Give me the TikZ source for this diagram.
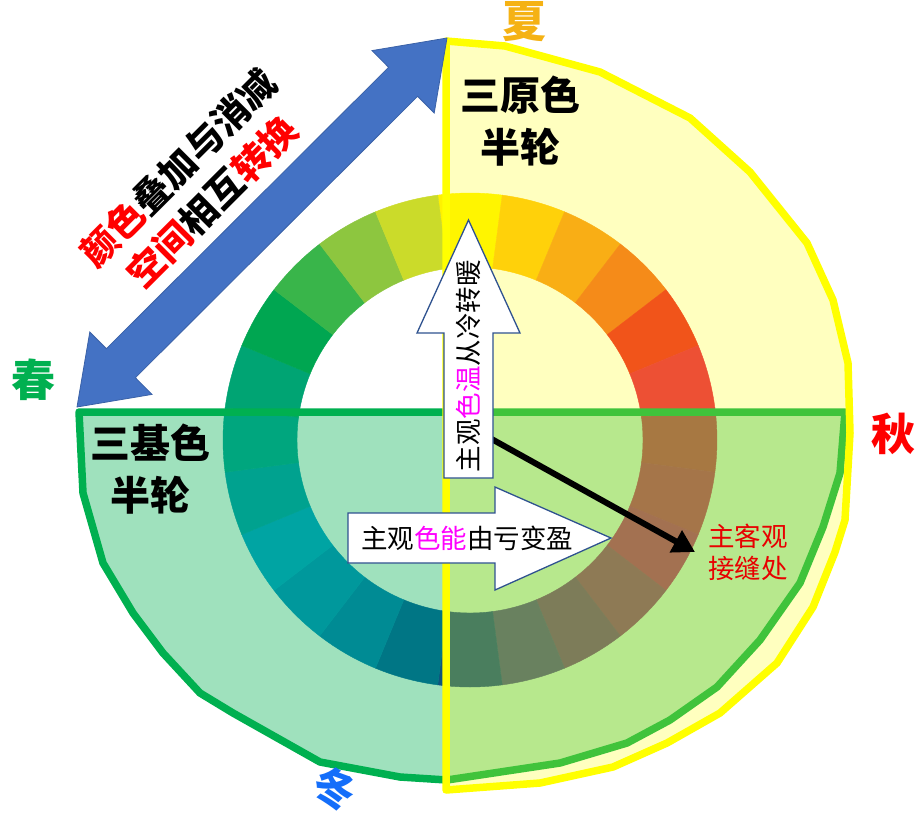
\documentclass[tikz,border=0pt]{standalone}
\usepackage{fontspec}
\setmainfont{Noto Sans CJK SC}
\usetikzlibrary{arrows.meta}
\definecolor{grn}{RGB}{0,176,80}
\definecolor{yel}{RGB}{255,255,0}
\definecolor{arrblue}{RGB}{68,114,196}
\definecolor{arredge}{RGB}{47,82,143}
\definecolor{mag}{RGB}{255,0,255}
\definecolor{txtred}{RGB}{255,0,0}
\definecolor{seamred}{RGB}{232,0,0}
\definecolor{summer}{RGB}{245,178,20}
\definecolor{winter}{RGB}{20,110,250}
\definecolor{r0}{RGB}{255,242,0}
\definecolor{r1}{RGB}{255,194,14}
\definecolor{r2}{RGB}{247,148,29}
\definecolor{r3}{RGB}{242,101,34}
\definecolor{r4}{RGB}{237,28,36}
\definecolor{r5}{RGB}{232,22,70}
\definecolor{r6}{RGB}{222,16,95}
\definecolor{r7}{RGB}{219,8,110}
\definecolor{r8}{RGB}{214,0,127}
\definecolor{r9}{RGB}{169,19,135}
\definecolor{r10}{RGB}{133,25,144}
\definecolor{r11}{RGB}{90,36,157}
\definecolor{r12}{RGB}{24,29,155}
\definecolor{r13}{RGB}{0,83,166}
\definecolor{r14}{RGB}{0,118,190}
\definecolor{r15}{RGB}{0,139,202}
\definecolor{r16}{RGB}{0,157,214}
\definecolor{r17}{RGB}{0,154,182}
\definecolor{r18}{RGB}{0,160,154}
\definecolor{r19}{RGB}{0,164,115}
\definecolor{r20}{RGB}{0,166,81}
\definecolor{r21}{RGB}{57,181,74}
\definecolor{r22}{RGB}{141,198,63}
\definecolor{r23}{RGB}{203,219,42}
\tikzset{
  halfgreen/.style={fill=grn, fill opacity=0.375, draw=grn, line width=7.5, line join=round},
  halfyellow/.style={fill=yel, fill opacity=0.25, draw=yel, line width=7.5, line join=round},
  whitearrow/.style={fill=white, draw=arredge, line width=1.3, line join=miter},
  bluearrow/.style={fill=arrblue, draw=arrblue!85!black, line width=0.8, line join=miter},
  season/.style={font=\bfseries\fontsize{44}{44}\selectfont, inner sep=0pt},
  halflabel/.style={align=center, font=\bfseries\fontsize{40}{52}\selectfont, inner sep=0pt},
  arrowtext/.style={font=\fontsize{26.5}{30}\selectfont, inner sep=0pt},
  seamtext/.style={align=center, text=seamred, font=\fontsize{26.5}{32}\selectfont, inner sep=0pt},
  slanttext/.style={rotate=45, align=center, inner sep=0pt, font=\bfseries\fontsize{37}{48}\selectfont},
  pointer/.style={line width=6, -{Triangle[length=22pt,width=24pt]}}
}
\begin{document}
\begin{tikzpicture}[x=1pt,y=-1pt]
\useasboundingbox (0,0) rectangle (923,815);
\fill[white] (0,0) rectangle (923,815);

% colour ring
\begin{scope}[shift={(470,440)}]
\foreach \k in {0,...,23}{
  \pgfmathsetmacro\aa{15*\k-90-7.5}
  \pgfmathsetmacro\bb{15*\k-90+7.5}
  \fill[r\k, draw=r\k, line width=0.4] (\aa:247) arc[start angle=\aa, end angle=\bb, radius=247]
     -- (\bb:173) arc[start angle=\bb, end angle=\aa, radius=173] -- cycle;
}
\end{scope}

% green half wheel (lower)
\path[halfgreen] (79,412) -- (845,412) -- (840,473) -- (823,527) -- (800,583) -- (760,640)
  -- (717,687) -- (670,720) -- (627,743) -- (560,763) -- (447,780) -- (400,777) -- (320,762)
  -- (233,713) -- (200,693) -- (163,653) -- (133,613) -- (103,563) -- (83,493) -- cycle;

% yellow half wheel (right)
\path[halfyellow] (446,41) -- (505,46) -- (600,72) -- (690,118) -- (750,172) -- (807,243)
  -- (833,300) -- (848,363) -- (850,433) -- (845,520) -- (835,552) -- (813,607) -- (777,663)
  -- (720,713) -- (667,743) -- (613,767) -- (540,783) -- (446,790) -- cycle;

% black pointer
\coordinate (bstart) at (470,427);
\coordinate (seamtip) at (695,552);
\draw[pointer] (bstart) -- (seamtip);

% white block arrows
\draw[whitearrow] (444,478) -- (444,333) -- (417,333) -- (468.5,220) -- (520,333) -- (493,333) -- (493,478) -- cycle;
\draw[whitearrow] (348,513) -- (495,513) -- (495,487) -- (611,538) -- (495,590) -- (495,563) -- (348,563) -- cycle;

% blue double arrow
\draw[bluearrow] (447,38) -- (434.2,113.0) -- (417.6,96.3) -- (135.4,377.7) -- (152.0,394.4)
  -- (77,407) -- (89.8,332.0) -- (106.4,348.7) -- (388.6,67.3) -- (372.0,50.6) -- cycle;

% texts
\node[arrowtext, rotate=90] (warm) at (468.5,366) {主观\textcolor{mag}{色温}从冷转暖};
\node[arrowtext] (gain) at (467,538) {主观\textcolor{mag}{色能}由亏变盈};
\node[seamtext] (seam) at (748,552) {主客观\\接缝处};
\node[halflabel] (prim) at (520,121) {三原色\\半轮};
\node[halflabel] (base) at (150,469) {三基色\\半轮};
\node[slanttext] (mix) at (195,185)
  {\textcolor{txtred}{颜色}叠加与消减\\\textcolor{txtred}{空间}相互\textcolor{txtred}{转换}};
\node[season, text=summer] (xia) at (524,22) {夏};
\node[season, text=grn] (chun) at (33.5,380) {春};
\node[season, text=txtred] (qiu) at (893,434) {秋};
\node[season, text=winter, rotate=-20, font=\bfseries\fontsize{42}{42}\selectfont] (dong) at (335,789) {冬};
\end{tikzpicture}
\end{document}
